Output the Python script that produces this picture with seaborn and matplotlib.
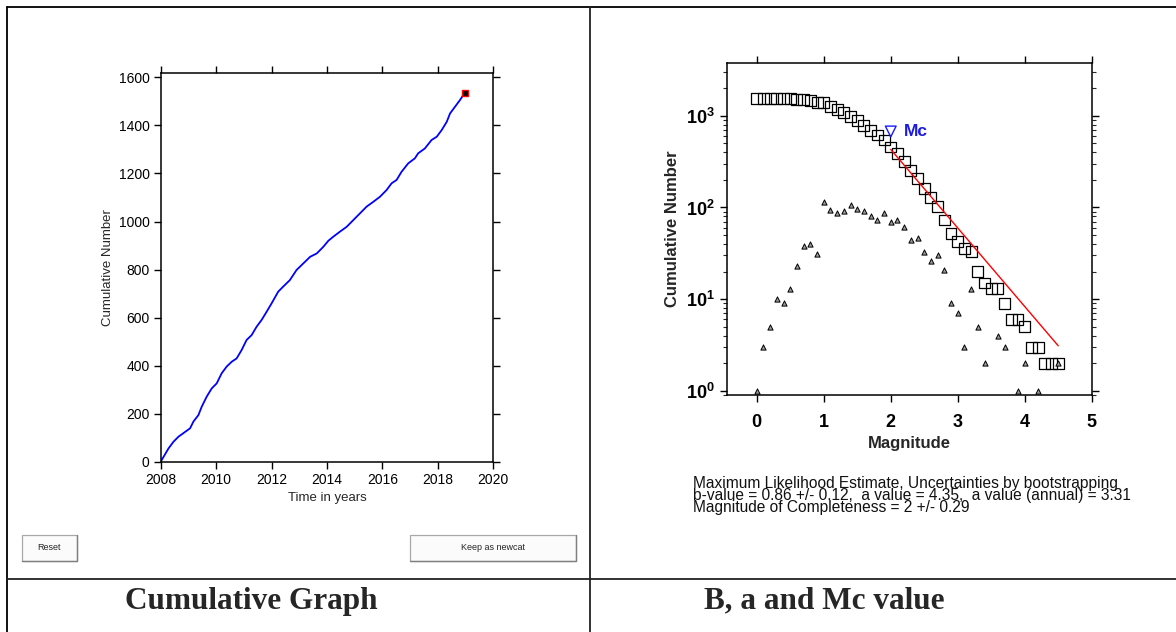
import numpy as np
import pandas as pd
import matplotlib
matplotlib.use("Agg")
import matplotlib.pyplot as plt
import seaborn as sns
from matplotlib.patches import Rectangle
from matplotlib.lines import Line2D
from matplotlib.ticker import FixedLocator, FixedFormatter, LogLocator, NullFormatter

# ---------------- data ----------------
years = [2008.0, 2008.28, 2008.46, 2008.64, 2009.06, 2009.18, 2009.36, 2009.48, 2009.66,
         2009.84, 2010.02, 2010.2, 2010.38, 2010.56, 2010.74, 2010.92, 2011.1, 2011.28,
         2011.46, 2011.64, 2011.82, 2012.0, 2012.24, 2012.42, 2012.66, 2012.9, 2013.15,
         2013.39, 2013.63, 2013.87, 2014.05, 2014.23, 2014.47, 2014.71, 2014.95, 2015.19,
         2015.43, 2015.67, 2015.91, 2016.15, 2016.33, 2016.51, 2016.69, 2016.93, 2017.17,
         2017.29, 2017.53, 2017.77, 2017.96, 2018.14, 2018.32, 2018.44, 2018.62, 2018.8,
         2018.92, 2018.98]
cum_events = [0, 55, 83, 104, 139, 167, 194, 229, 271, 305, 326, 368, 396, 416, 430, 465,
              507, 527, 562, 590, 624, 659, 708, 729, 756, 798, 826, 853, 867, 895, 920,
              937, 958, 978, 1006, 1034, 1062, 1082, 1103, 1131, 1159, 1173, 1207, 1242,
              1263, 1284, 1304, 1339, 1353, 1381, 1415, 1450, 1478, 1506, 1527, 1536]

mag_bins = [0.0, 0.1, 0.2, 0.3, 0.4, 0.5, 0.6, 0.7, 0.8, 0.9, 1.0, 1.1, 1.2, 1.3, 1.4, 1.5,
            1.6, 1.7, 1.8, 1.9, 2.0, 2.1, 2.2, 2.3, 2.4, 2.5, 2.6, 2.7, 2.8, 2.9, 3.0, 3.1,
            3.2, 3.3, 3.4, 3.5, 3.6, 3.7, 3.8, 3.9, 4.0, 4.1, 4.2, 4.3, 4.4, 4.5]
cum_number = [1556, 1555, 1552, 1547, 1537, 1528, 1515, 1492, 1454, 1414, 1383, 1267, 1173,
              1085, 994, 887, 790, 699, 618, 545, 457, 387, 314, 252, 208, 162, 129, 103,
              73, 52, 43, 36, 33, 20, 15, 13, 13, 9, 6, 6, 5, 3, 3, 2, 2, 2]

tri_mag = [0.0, 0.1, 0.2, 0.3, 0.4, 0.5, 0.6, 0.7, 0.8, 0.9, 1.0, 1.1, 1.2, 1.3, 1.4, 1.5,
           1.6, 1.7, 1.8, 1.9, 2.0, 2.1, 2.2, 2.3, 2.4, 2.5, 2.6, 2.7, 2.8, 2.9, 3.0, 3.1,
           3.2, 3.3, 3.4, 3.6, 3.7, 3.9, 4.0, 4.2, 4.5]
tri_number = [1, 3, 5, 10, 9, 13, 23, 38, 40, 31, 116, 94, 88, 91, 107, 97, 91, 81, 73, 88,
              70, 73, 62, 44, 46, 33, 26, 30, 21, 9, 7, 3, 13, 5, 2, 4, 3, 1, 2, 1, 2]

fit_mag = [2.0, 4.5]
fit_number = [430, 3.1]
mc_mag = [2.0]
mc_number = [675]

year_ticks = [2008, 2010, 2012, 2014, 2016, 2018, 2020]
count_ticks = [0, 200, 400, 600, 800, 1000, 1200, 1400, 1600]
mag_ticks = [0, 1, 2, 3, 4, 5]
logy_ticks = [1, 10, 100, 1000]
logy_labels = [r"$\mathbf{10^{0}}$", r"$\mathbf{10^{1}}$", r"$\mathbf{10^{2}}$", r"$\mathbf{10^{3}}$"]

info_lines = ["Maximum Likelihood Estimate, Uncertainties by bootstrapping",
              "b-value = 0.86 +/- 0.12,  a value = 4.35,  a value (annual) = 3.31",
              "Magnitude of Completeness = 2 +/- 0.29"]
panel_titles = ["Cumulative Graph", "B, a and Mc value"]
button_labels = ["Reset", "Keep as newcat"]

# ---------------- style ----------------
sns.set_style("ticks")
plt.rcParams["font.family"] = ["Liberation Sans", "DejaVu Sans"]
plt.rcParams["mathtext.fontset"] = "custom"
plt.rcParams["mathtext.bf"] = "Liberation Sans:bold"
plt.rcParams["mathtext.rm"] = "Liberation Sans"
plt.rcParams["axes.linewidth"] = 1.1

W, H = 1176, 632
fig = plt.figure(figsize=(W / 100, H / 100), dpi=100)
fig.patch.set_facecolor("white")


def fx(px):
    return px / W


def fy(py):
    return 1 - py / H


# ---------------- left: cumulative graph ----------------
ax1 = fig.add_axes([fx(160.7), fy(461.7), (493.3 - 160.7) / W, (461.7 - 73.3) / H])
df1 = pd.DataFrame({"year": years, "n": cum_events})
sns.lineplot(data=df1, x="year", y="n", ax=ax1, color="#0000ff", linewidth=1.3,
             estimator=None, sort=False)
ax1.plot([years[-1]], [cum_events[-1]], marker="s", ms=4, mfc="black", mec="red", mew=1.0,
         ls="none")
ax1.set_xlim(2008, 2020)
ax1.set_ylim(0, 1617)
ax1.xaxis.set_major_locator(FixedLocator(year_ticks))
ax1.yaxis.set_major_locator(FixedLocator(count_ticks))
ax1.tick_params(direction="out", length=5, width=1, top=True, right=True,
                labelsize=10, colors="black", pad=3)
for s in ax1.spines.values():
    s.set_visible(True)
    s.set_color("black")
ax1.set_xlabel("Time in years", fontsize=9.5, labelpad=4)
ax1.set_ylabel("Cumulative Number", fontsize=9.5, labelpad=3)

# ---------------- right: b-value plot ----------------
ax2 = fig.add_axes([fx(727.3), fy(395), (1091.7 - 727.3) / W, (395 - 62.7) / H])
ax2.set_yscale("log")
sns.scatterplot(x=mag_bins, y=cum_number, ax=ax2, marker="s", s=62,
                facecolor="none", edgecolor="black", linewidth=0.9, zorder=3)
sns.scatterplot(x=tri_mag, y=tri_number, ax=ax2, marker="^", s=14,
                facecolor="#9a9a9a", edgecolor="black", linewidth=0.7, zorder=3)
sns.lineplot(x=fit_mag, y=fit_number, ax=ax2, color="red", linewidth=1.0, zorder=4)
sns.scatterplot(x=mc_mag, y=mc_number, ax=ax2, marker="v", s=60,
                facecolor="none", edgecolor="#1a1aff", linewidth=1.0, zorder=4)
ax2.text(2.2, mc_number[0], "Mc", color="#1a1ae0", fontsize=12.5, fontweight="bold",
         va="center", ha="left")
ax2.set_xlim(-0.44, 5)
ax2.set_ylim(0.9, 3800)
ax2.xaxis.set_major_locator(FixedLocator(mag_ticks))
ax2.yaxis.set_major_locator(FixedLocator(logy_ticks))
ax2.yaxis.set_major_formatter(FixedFormatter(logy_labels))
ax2.yaxis.set_minor_locator(LogLocator(base=10, subs=np.arange(2, 10), numticks=20))
ax2.yaxis.set_minor_formatter(NullFormatter())
ax2.tick_params(which="major", direction="out", length=5, width=1, top=True, right=True,
                labelsize=13, colors="black", pad=4)
ax2.tick_params(axis="x", which="major", pad=9)
ax2.tick_params(which="minor", direction="out", length=3, width=0.8, right=True, left=True)
for lab in ax2.get_xticklabels():
    lab.set_fontweight("bold")
for s in ax2.spines.values():
    s.set_visible(True)
    s.set_color("black")
ax2.set_xlabel("Magnitude", fontsize=12, fontweight="bold", labelpad=3)
ax2.set_ylabel("Cumulative Number", fontsize=12, fontweight="bold", labelpad=4)

# ---------------- info text ----------------
fig.text(fx(693), fy(495.5), "\n".join(info_lines), fontsize=11.2, ha="left", va="center",
         color="#111111", linespacing=0.72)

# ---------------- buttons ----------------
buttons = [(22, 535, 55, 26), (410, 535, 166, 26)]
for (bx, by, bw, bh), lab in zip(buttons, button_labels):
    fig.add_artist(Rectangle((fx(bx), fy(by + bh)), bw / W, bh / H, transform=fig.transFigure,
                             facecolor="#fbfbfb", edgecolor="#a8a8a8", linewidth=0.9))
    fig.add_artist(Line2D([fx(bx), fx(bx + bw), fx(bx + bw)],
                          [fy(by + bh), fy(by + bh), fy(by)], transform=fig.transFigure,
                          color="#808080", linewidth=1.0))
    fig.text(fx(bx + bw / 2), fy(by + bh / 2), lab, fontsize=6.5, ha="center", va="center")

# ---------------- frame lines ----------------
lw = 1.3
fig.add_artist(Line2D([fx(7), fx(7)], [fy(6.5), fy(632)], transform=fig.transFigure,
                      color="black", linewidth=lw))
fig.add_artist(Line2D([fx(7), fx(1176)], [fy(6.5), fy(6.5)], transform=fig.transFigure,
                      color="black", linewidth=lw))
fig.add_artist(Line2D([fx(589.5), fx(589.5)], [fy(6.5), fy(632)], transform=fig.transFigure,
                      color="#222222", linewidth=lw))
fig.add_artist(Line2D([fx(7), fx(1176)], [fy(579), fy(579)], transform=fig.transFigure,
                      color="#222222", linewidth=lw))

# ---------------- panel titles ----------------
fig.text(fx(251), fy(601), panel_titles[0], fontsize=22.5, fontweight="bold",
         family=["Liberation Serif", "DejaVu Serif"], ha="center", va="center")
fig.text(fx(824), fy(601), panel_titles[1], fontsize=22.5, fontweight="bold",
         family=["Liberation Serif", "DejaVu Serif"], ha="center", va="center")

fig.savefig("out.png", dpi=100)
